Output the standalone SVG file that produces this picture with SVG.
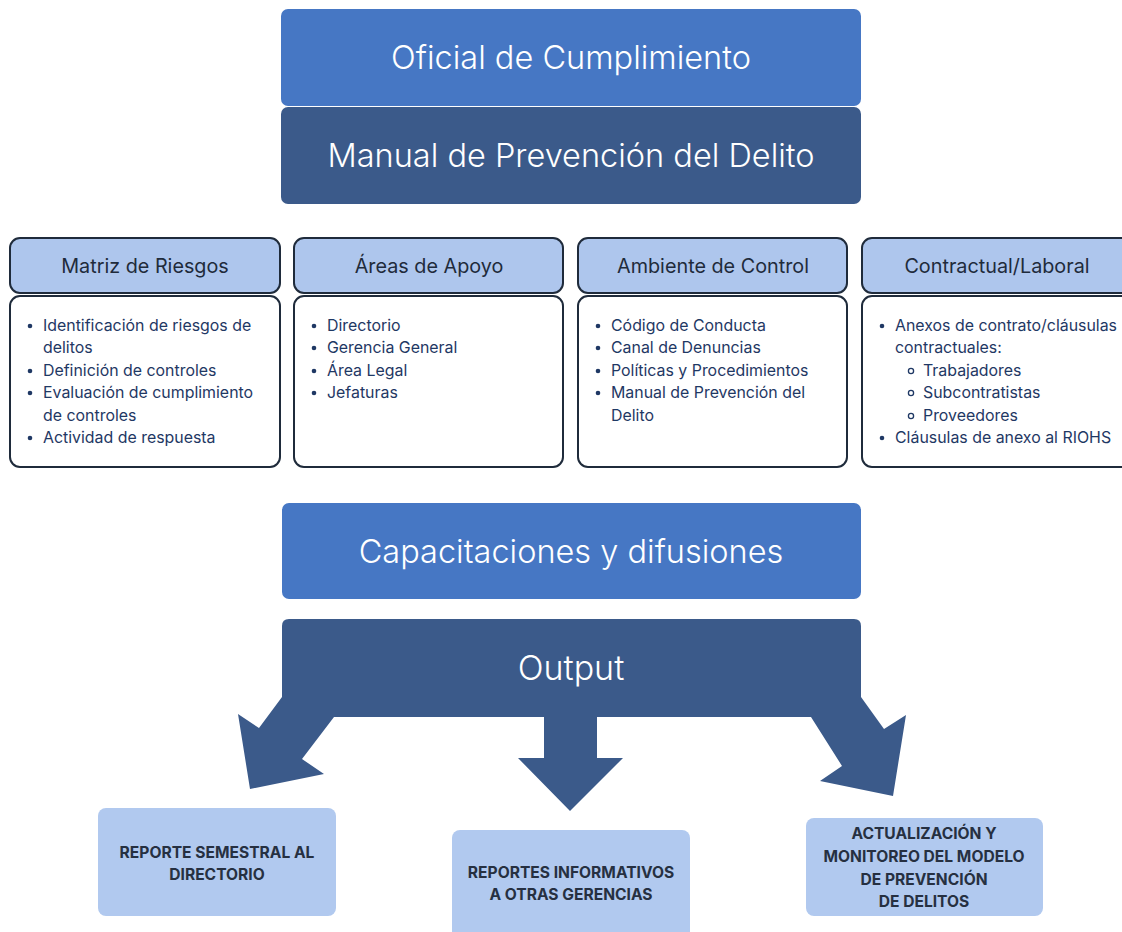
<svg xmlns="http://www.w3.org/2000/svg" width="1122" height="932" viewBox="0 0 1122 932">
<style>
.big{font-family:Inter,"Liberation Sans",sans-serif;font-size:32.5px;fill:#ffffff;text-anchor:middle;font-weight:300}
.hdr{fill:#aec6ed;stroke:#1f2b3b;stroke-width:2}
.body{fill:#ffffff;stroke:#1f2b3b;stroke-width:2}
.ht{font-family:Inter,"Liberation Sans",sans-serif;font-size:19.8px;fill:#1f2b3b;text-anchor:middle}
.it{font-family:Inter,"Liberation Sans",sans-serif;font-size:15.9px;fill:#1f3864}
.bul{fill:#1f3864}
.sub{fill:none;stroke:#1f3864;stroke-width:1.3}
.out{fill:#b1c9ef}
.ot{font-family:Inter,"Liberation Sans",sans-serif;font-size:15.6px;font-weight:700;fill:#263041;text-anchor:middle}
</style>
<rect width="1122" height="932" fill="#ffffff"/>
<g id="oficial">
<rect x="281" y="9" width="580" height="97" rx="7" fill="#4677c4"/>
<text class="big" x="571" y="69">Oficial de Cumplimiento</text>
</g>
<g id="manual">
<rect x="281" y="107" width="580" height="97" rx="7" fill="#3b5a8a"/>
<text class="big" x="571" y="167">Manual de Prevención del Delito</text>
</g>
<g id="matriz">
<rect class="hdr" x="10" y="238" width="270" height="55" rx="10"/>
<text class="ht" x="145" y="273">Matriz de Riesgos</text>
<rect class="body" x="10" y="296" width="270" height="171" rx="10"/>
<circle class="bul" cx="30" cy="326" r="2.3"/>
<text class="it" x="43" y="331">Identificación de riesgos de</text>
<text class="it" x="43" y="353">delitos</text>
<circle class="bul" cx="30" cy="371" r="2.3"/>
<text class="it" x="43" y="376">Definición de controles</text>
<circle class="bul" cx="30" cy="393" r="2.3"/>
<text class="it" x="43" y="398">Evaluación de cumplimiento</text>
<text class="it" x="43" y="421">de controles</text>
<circle class="bul" cx="30" cy="438" r="2.3"/>
<text class="it" x="43" y="443">Actividad de respuesta</text>
</g>
<g id="areas">
<rect class="hdr" x="294" y="238" width="269" height="55" rx="10"/>
<text class="ht" x="429" y="273">Áreas de Apoyo</text>
<rect class="body" x="294" y="296" width="269" height="171" rx="10"/>
<circle class="bul" cx="314" cy="326" r="2.3"/>
<text class="it" x="327" y="331">Directorio</text>
<circle class="bul" cx="314" cy="348" r="2.3"/>
<text class="it" x="327" y="353">Gerencia General</text>
<circle class="bul" cx="314" cy="371" r="2.3"/>
<text class="it" x="327" y="376">Área Legal</text>
<circle class="bul" cx="314" cy="393" r="2.3"/>
<text class="it" x="327" y="398">Jefaturas</text>
</g>
<g id="ambiente">
<rect class="hdr" x="578" y="238" width="269" height="55" rx="10"/>
<text class="ht" x="713" y="273">Ambiente de Control</text>
<rect class="body" x="578" y="296" width="269" height="171" rx="10"/>
<circle class="bul" cx="598" cy="326" r="2.3"/>
<text class="it" x="611" y="331">Código de Conducta</text>
<circle class="bul" cx="598" cy="348" r="2.3"/>
<text class="it" x="611" y="353">Canal de Denuncias</text>
<circle class="bul" cx="598" cy="371" r="2.3"/>
<text class="it" x="611" y="376">Políticas y Procedimientos</text>
<circle class="bul" cx="598" cy="393" r="2.3"/>
<text class="it" x="611" y="398">Manual de Prevención del</text>
<text class="it" x="611" y="421">Delito</text>
</g>
<g id="contractual">
<rect class="hdr" x="862" y="238" width="280" height="55" rx="10"/>
<text class="ht" x="997" y="273">Contractual/Laboral</text>
<rect class="body" x="862" y="296" width="280" height="171" rx="10"/>
<circle class="bul" cx="882" cy="326" r="2.3"/>
<text class="it" x="895" y="331">Anexos de contrato/cláusulas</text>
<text class="it" x="895" y="353">contractuales:</text>
<circle class="sub" cx="911" cy="371" r="2.6"/>
<text class="it" x="923" y="376">Trabajadores</text>
<circle class="sub" cx="911" cy="393" r="2.6"/>
<text class="it" x="923" y="398">Subcontratistas</text>
<circle class="sub" cx="911" cy="416" r="2.6"/>
<text class="it" x="923" y="421">Proveedores</text>
<circle class="bul" cx="882" cy="438" r="2.3"/>
<text class="it" x="895" y="443">Cláusulas de anexo al RIOHS</text>
</g>
<g id="capacitaciones">
<rect x="282" y="503" width="579" height="96" rx="7" fill="#4677c4"/>
<text class="big" x="571" y="563">Capacitaciones y difusiones</text>
</g>
<g id="connectors">
<path d="M289,619 L854,619 Q861,619 861,626 L861,697 L884,729 L906,715 L893,796 L820,781 L842,766 L811,717 L597,717 L597,758 L623,758 L570,811 L518,758 L544,758 L544,717 L334,717 L302,759 L324,774 L250,789 L238,714 L259,728 L282,697 L282,626 Q282,619 289,619 Z" fill="#3b5a8a"/>
</g>
<g id="output">
<text class="big" x="571" y="680" style="font-size:34px">Output</text>
</g>
<g id="reporte-semestral">
<rect class="out" x="98" y="808" width="238" height="108" rx="8"/>
<text class="ot" x="217" y="858">REPORTE SEMESTRAL AL</text>
<text class="ot" x="217" y="880">DIRECTORIO</text>
</g>
<g id="reportes-informativos">
<rect class="out" x="452" y="830" width="238" height="110" rx="8"/>
<text class="ot" x="571" y="878">REPORTES INFORMATIVOS</text>
<text class="ot" x="571" y="900">A OTRAS GERENCIAS</text>
</g>
<g id="actualizacion">
<rect class="out" x="806" y="818" width="237" height="98" rx="8"/>
<text class="ot" x="924" y="839">ACTUALIZACIÓN Y</text>
<text class="ot" x="924" y="862">MONITOREO DEL MODELO</text>
<text class="ot" x="924" y="885">DE PREVENCIÓN</text>
<text class="ot" x="924" y="907">DE DELITOS</text>
</g>
</svg>
